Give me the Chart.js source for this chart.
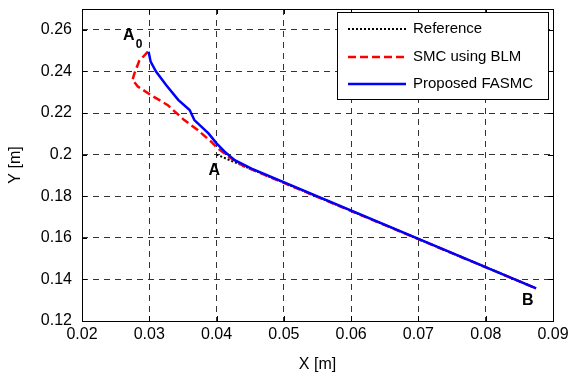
<!DOCTYPE html>
<html>
<head>
<meta charset="utf-8">
<script src="https://cdn.jsdelivr.net/npm/chart.js@4/dist/chart.umd.min.js"></script>
<style>
  html, body { margin: 0; padding: 0; background: #fff; }
  #wrap { width: 572px; height: 379px; }
</style>
</head>
<body>
<div id="wrap"><canvas id="trayectoria"></canvas></div>
<script>
// Datos
const xTicks = [0.02, 0.03, 0.04, 0.05, 0.06, 0.07, 0.08, 0.09];
const yTicks = [0.12, 0.14, 0.16, 0.18, 0.20, 0.22, 0.24, 0.26];

const refX = [0.0400, 0.0875];
const refY = [0.2000, 0.1357];

const smcX = [0.0298, 0.0285, 0.0278, 0.0275, 0.0283, 0.0302, 0.0327, 0.0352, 0.0372, 0.0392, 0.0402, 0.0418, 0.0440, 0.0875];
const smcY = [0.2495, 0.2450, 0.2391, 0.2359, 0.2327, 0.2287, 0.2239, 0.2166, 0.2118, 0.2062, 0.2030, 0.1990, 0.1945, 0.1357];

const fasmcX = [0.0299, 0.0302, 0.0310, 0.0325, 0.0343, 0.0360, 0.0367, 0.0388, 0.0400, 0.0412, 0.0427, 0.0452, 0.0875];
const fasmcY = [0.2495, 0.2447, 0.2399, 0.2335, 0.2263, 0.2214, 0.2166, 0.2102, 0.2054, 0.2014, 0.1973, 0.1933, 0.1357];

const etiquetas = [
    { texto: "A", sub: "0", x: 0.0270, y: 0.2571 },
    { texto: "A", sub: "", x: 0.0397, y: 0.1925 },
    { texto: "B", sub: "", x: 0.0863, y: 0.1297 }
];

function puntos(xs, ys) {
    return xs.map((x, i) => ({ x: x, y: ys[i] }));
}

const fuente = "Arial, 'Liberation Sans', Helvetica, sans-serif";

// Marco, marcas, etiquetas y leyenda
const decoracion = {
    id: "decoracion",
    afterDraw(chart) {
        const ctx = chart.ctx;
        const a = chart.chartArea;
        const sx = chart.scales.x;
        const sy = chart.scales.y;
        ctx.save();

        // marcas hacia dentro
        ctx.strokeStyle = "#000";
        ctx.lineWidth = 1;
        ctx.setLineDash([]);
        ctx.beginPath();
        xTicks.forEach(v => {
            const px = Math.round(sx.getPixelForValue(v)) + 0.5;
            ctx.moveTo(px, a.bottom); ctx.lineTo(px, a.bottom - 5);
            ctx.moveTo(px, a.top); ctx.lineTo(px, a.top + 5);
        });
        yTicks.forEach(v => {
            const py = Math.round(sy.getPixelForValue(v)) + 0.5;
            ctx.moveTo(a.left, py); ctx.lineTo(a.left + 5, py);
            ctx.moveTo(a.right, py); ctx.lineTo(a.right - 5, py);
        });
        ctx.stroke();
        ctx.strokeRect(Math.round(a.left) + 0.5, Math.round(a.top) + 0.5,
            Math.round(a.right - a.left), Math.round(a.bottom - a.top));

        // etiquetas A0, A, B
        ctx.fillStyle = "#000";
        ctx.textBaseline = "middle";
        ctx.textAlign = "left";
        etiquetas.forEach(e => {
            const px = sx.getPixelForValue(e.x);
            const py = sy.getPixelForValue(e.y);
            ctx.font = "bold 16px " + fuente;
            ctx.fillText(e.texto, px - 6, py);
            if (e.sub) {
                const w = ctx.measureText(e.texto).width;
                ctx.font = "bold 12px " + fuente;
                ctx.fillText(e.sub, px - 6 + w + 1, py + 9);
            }
        });

        // leyenda
        const lx = 337, ly = 12, lw = 211, lh = 87;
        ctx.fillStyle = "#fff";
        ctx.fillRect(lx, ly, lw, lh);
        ctx.strokeStyle = "#000";
        ctx.lineWidth = 1;
        ctx.strokeRect(lx + 0.5, ly + 0.5, lw, lh);
        const filas = [29, 57, 84];
        chart.data.datasets.forEach((ds, i) => {
            const y = filas[i];
            ctx.beginPath();
            ctx.strokeStyle = ds.borderColor;
            ctx.lineWidth = ds.borderWidth;
            ctx.setLineDash(ds.borderDash || []);
            ctx.moveTo(348, y);
            ctx.lineTo(406, y);
            ctx.stroke();
            ctx.setLineDash([]);
            ctx.fillStyle = "#000";
            ctx.font = "15px " + fuente;
            ctx.textAlign = "left";
            ctx.textBaseline = "middle";
            ctx.fillText(ds.label, 413, y);
        });
        ctx.restore();
    }
};

const opcionesGrid = {
    color: "#333",
    lineWidth: 1,
    drawTicks: false
};

new Chart(document.getElementById("trayectoria"), {
    type: "scatter",
    data: {
        datasets: [
            {
                label: "Reference",
                data: puntos(refX, refY),
                showLine: true,
                borderColor: "#000000",
                borderWidth: 2,
                borderDash: [2, 2],
                pointRadius: 0,
                order: 3
            },
            {
                label: "SMC using BLM",
                data: puntos(smcX, smcY),
                showLine: true,
                borderColor: "#ff0000",
                borderWidth: 2.5,
                borderDash: [8, 4],
                pointRadius: 0,
                order: 2
            },
            {
                label: "Proposed FASMC",
                data: puntos(fasmcX, fasmcY),
                showLine: true,
                borderColor: "#0000ff",
                borderWidth: 2.5,
                pointRadius: 0,
                order: 1
            }
        ]
    },
    options: {
        responsive: true,
        maintainAspectRatio: false,
        animation: false,
        layout: { padding: { top: 9, right: 19, left: 0, bottom: 0 } },
        plugins: {
            legend: { display: false },
            tooltip: { enabled: false }
        },
        scales: {
            x: {
                type: "linear",
                min: 0.02,
                max: 0.09,
                afterBuildTicks: s => { s.ticks = xTicks.map(v => ({ value: v })); },
                afterFit: s => { s.height = 58; s.paddingLeft = 0; s.paddingRight = 0; },
                ticks: {
                    color: "#000",
                    padding: 4,
                    maxRotation: 0,
                    font: { family: fuente, size: 16 },
                    callback: v => String(+v.toFixed(2))
                },
                grid: Object.assign({}, opcionesGrid, { tickBorderDash: [6, 5] }),
                border: { display: false, dash: [6, 5] },
                title: {
                    display: true,
                    text: "X [m]",
                    color: "#000",
                    font: { family: fuente, size: 16 },
                    padding: { top: 0, bottom: 5 }
                }
            },
            y: {
                type: "linear",
                min: 0.12,
                max: 0.27,
                afterBuildTicks: s => { s.ticks = yTicks.map(v => ({ value: v })); },
                afterFit: s => { s.width = 82; s.paddingTop = 0; s.paddingBottom = 0; },
                ticks: {
                    color: "#000",
                    padding: 10,
                    font: { family: fuente, size: 16 },
                    callback: v => String(+v.toFixed(2))
                },
                grid: opcionesGrid,
                border: { display: false, dash: [6, 5] },
                title: {
                    display: true,
                    text: "Y [m]",
                    color: "#000",
                    font: { family: fuente, size: 16 },
                    padding: { top: 6, bottom: 0 }
                }
            }
        }
    },
    plugins: [decoracion]
});
</script>
</body>
</html>
